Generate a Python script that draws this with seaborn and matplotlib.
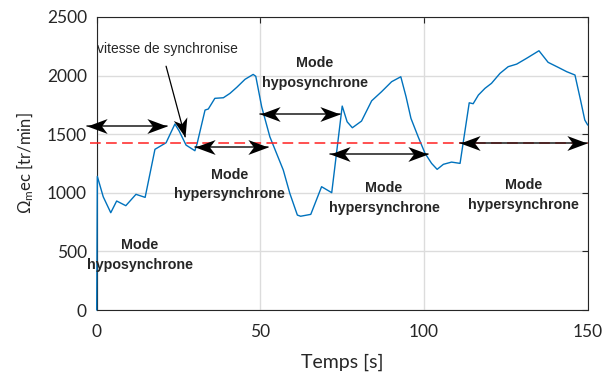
import numpy as np
import pandas as pd
import matplotlib
matplotlib.use('Agg')
import matplotlib.pyplot as plt
from matplotlib.path import Path
from matplotlib.transforms import Affine2D
import seaborn as sns

# speed curve
temps = [0, 0.2, 2.0, 4.3, 6.1, 8.9, 12.0, 14.8, 17.8, 21.2,
         23.9, 25.2, 27.3, 30.0, 30.7, 33.1, 34.1, 36.1, 38.7, 40.7,
         42.8, 45.3, 47.8, 48.6, 50.4, 52.9, 57.0, 59.0, 61.3, 62.3,
         65.4, 68.7, 71.8, 75.0, 76.5, 78.1, 80.9, 84.0, 87.0, 90.1,
         92.9, 94.5, 96.0, 98.2, 100.3, 102.3, 104.0, 105.9, 108.4, 111.0,
         113.8, 115.0, 116.6, 118.6, 120.6, 123.2, 125.7, 128.3, 131.3, 135.1,
         137.9, 141.0, 143.6, 146.1, 147.8, 149.1, 150]
vitesse = [0, 1140, 966, 830, 930, 890, 987, 961, 1371, 1427,
           1587, 1527, 1407, 1359, 1422, 1706, 1715, 1806, 1811, 1848,
           1900, 1968, 2010, 1994, 1734, 1478, 1194, 995, 810, 800,
           816, 1052, 1001, 1740, 1606, 1555, 1612, 1785, 1862, 1948,
           1990, 1820, 1635, 1478, 1337, 1251, 1200, 1243, 1262, 1251,
           1768, 1760, 1834, 1891, 1934, 2019, 2076, 2098, 2147, 2212,
           2113, 2070, 2033, 2005, 1791, 1621, 1578]

# synchronous speed (dashed red)
sync_t = [-2, 150]
sync_v = [1425, 1425]

# double arrows marking the modes
arrow_start = [-3, 30.0, 49.9, 71.3, 111.0]
arrow_end = [21.4, 52.4, 74.3, 101.3, 149.7]
arrow_v = [1570, 1393, 1669, 1330, 1427]

mode_labels = ['Mode\nhyposynchrone', 'Mode\nhypersynchrone', 'Mode\nhyposynchrone',
               'Mode\nhypersynchrone', 'Mode\nhypersynchrone']
mode_t = [13.2, 40.7, 66.7, 87.8, 130.5]
mode_v = [470, 1071, 2022, 955, 981]

sync_label = 'vitesse de synchronise'
sync_label_pos = (0.2, 2225)
sync_tail = (21.2, 2080)
sync_tip = (27.0, 1478)

x_ticks = [0, 50, 100, 150]
y_ticks = [0, 500, 1000, 1500, 2000, 2500]

df = pd.DataFrame({'t': temps, 'w': vitesse})

# stealth arrow head, tip at origin, pointing right
HEAD = Path([(0, 0), (-1, 0.37), (-0.72, 0), (-1, -0.37), (0, 0)],
            [Path.MOVETO, Path.LINETO, Path.LINETO, Path.LINETO, Path.CLOSEPOLY])


def head(angle):
    return HEAD.transformed(Affine2D().rotate_deg(angle))


sns.set_style('whitegrid')
plt.rcParams['font.family'] = ['Lato', 'DejaVu Sans']
plt.rcParams['mathtext.fontset'] = 'custom'
plt.rcParams['mathtext.rm'] = 'Lato'
plt.rcParams['mathtext.it'] = 'Lato:italic'

fig = plt.figure(figsize=(6.02, 3.75), dpi=100)
ax = fig.add_axes([0.1606, 0.1733, 0.8157, 0.7814])
ax.set_xlim(0, 150)
ax.set_ylim(0, 2500)

sns.lineplot(data=df, x='t', y='w', ax=ax, color='#0072BD', lw=1.0,
             estimator=None, sort=False, zorder=3)
ax.lines[-1].set_clip_on(False)
ax.plot(sync_t, sync_v, color='#FF2020', lw=1.1, ls=(0, (7, 3.5)), clip_on=False, zorder=3)

ms = 29
for a, b, v in zip(arrow_start, arrow_end, arrow_v):
    ax.plot([a, b], [v, v], color='#1a1a1a', lw=1.1, clip_on=False, zorder=5)
    ax.plot([b], [v], marker=head(0), ms=ms, color='black', mew=0, clip_on=False, zorder=5)
    ax.plot([a], [v], marker=head(180), ms=ms, color='black', mew=0, clip_on=False, zorder=5)

for lab, t, v in zip(mode_labels, mode_t, mode_v):
    ax.text(t, v, lab, ha='center', va='center', fontsize=10.3, fontweight='bold',
            family='Liberation Sans', linespacing=1.5, zorder=6)

ax.text(sync_label_pos[0], sync_label_pos[1], sync_label, ha='left', va='center',
        fontsize=10, family='Liberation Sans', zorder=6)
ax.plot([sync_tail[0], sync_tip[0]], [sync_tail[1], sync_tip[1]], color='black', lw=0.9, zorder=5)
p0 = ax.transData.transform(sync_tail)
p1 = ax.transData.transform(sync_tip)
ang = np.degrees(np.arctan2(p1[1] - p0[1], p1[0] - p0[0]))
ax.plot([sync_tip[0]], [sync_tip[1]], marker=head(ang), ms=ms, color='black', mew=0, zorder=5)

ax.set_xticks(x_ticks)
ax.set_yticks(y_ticks)
ax.grid(True, color='#dcdcdc', lw=1.0)
for s in ax.spines.values():
    s.set_visible(True)
    s.set_color('#262626')
    s.set_linewidth(0.8)
ax.tick_params(direction='in', length=4, width=0.8, color='#262626',
               top=True, right=True, labelsize=12.5, labelcolor='#262626', pad=7)
ax.tick_params(axis='x', pad=10)
ax.set_xlabel('Temps [s]', fontsize=14, color='#262626', labelpad=10)
ax.set_ylabel(r'$\Omega_{\mathrm{m}}$ec [tr/min]', fontsize=12, color='#262626', labelpad=8)

fig.savefig('out.png', dpi=100)
